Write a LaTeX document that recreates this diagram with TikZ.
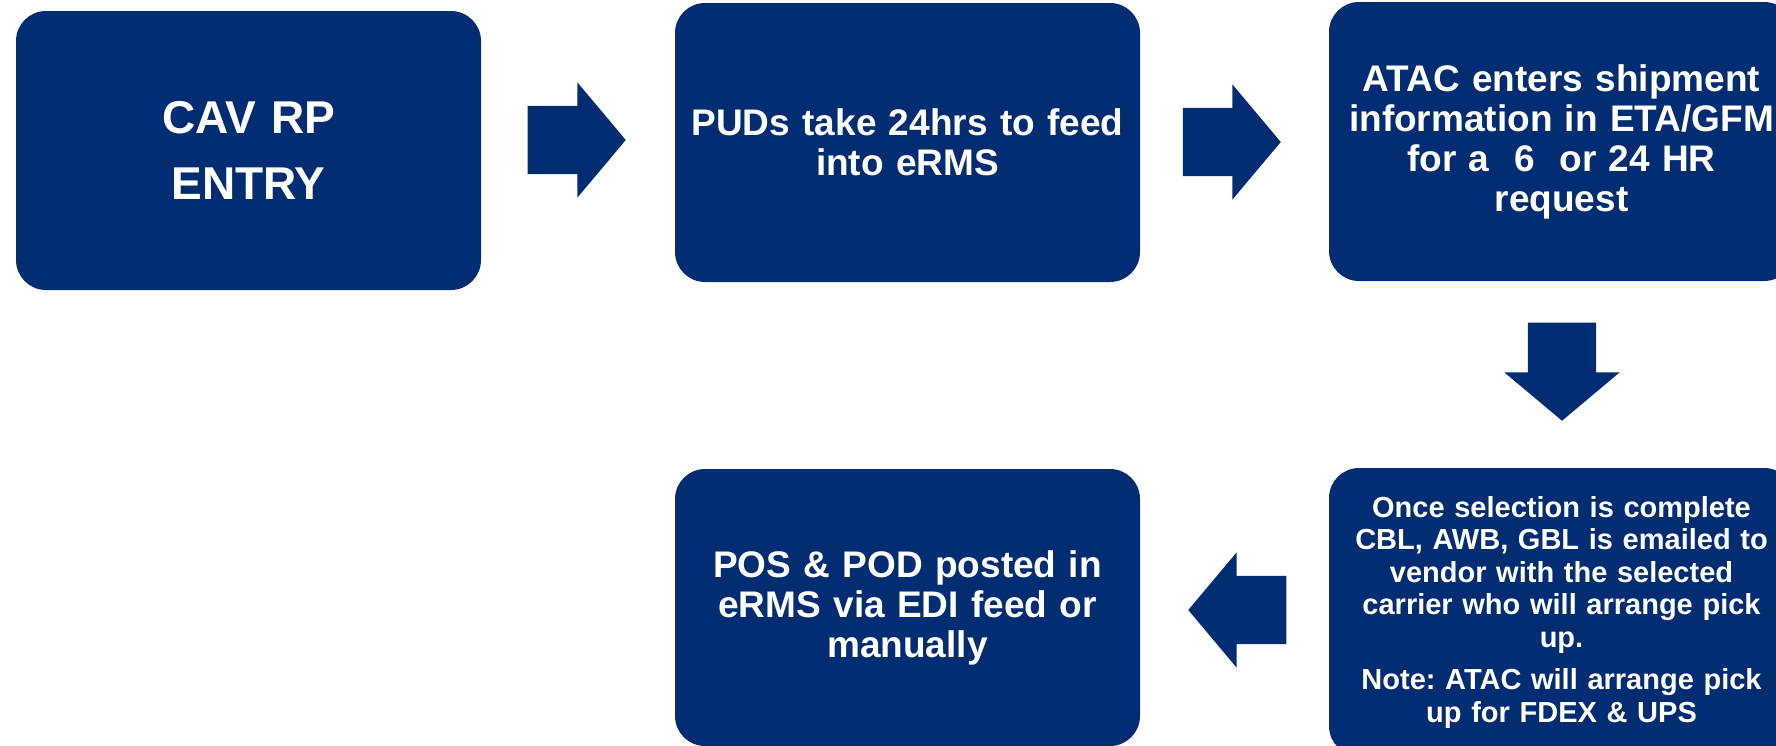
\documentclass[tikz,border=0pt]{standalone}
\usepackage{fontspec}
\setmainfont{Liberation Sans}
\usepackage{tikz}
\usetikzlibrary{shapes.arrows}
\definecolor{navy}{RGB}{3,45,114}
\frenchspacing

\begin{document}
\begin{tikzpicture}[
  x=1pt, y=-1pt,
  flowbox/.style={rectangle, rounded corners=30pt, fill=navy, text=white,
                  minimum width=465pt, minimum height=279pt, text width=440pt,
                  align=center, inner sep=0pt},
  bigtxt/.style={font=\bfseries\fontsize{37}{40}\selectfont},
  blockarr/.style={single arrow, fill=navy, draw=none, inner xsep=0pt, inner ysep=34pt,
                   minimum width=0pt, minimum height=98pt, single arrow head extend=23.5pt,
                   single arrow tip angle=100, anchor=tip},
]
\useasboundingbox (0,0) rectangle (1776,745);
% top row
\node[flowbox, font=\bfseries\fontsize{46}{66}\selectfont] (cav) at (248.5,150.5) {CAV RP\\ENTRY};
\node[flowbox, bigtxt] (pud) at (907.5,142.5) {PUDs take 24hrs to feed\\into eRMS};
\node[flowbox, bigtxt] (atac) at (1561.5,141.5) {ATAC enters shipment\\information in ETA/GFM\\for a~~6~~or 24 HR\\request};
% bottom row
\node[flowbox, minimum height=288pt, font=\bfseries\fontsize{29}{32.5}\selectfont] (sel) at (1561.5,612)
  {Once selection is complete\\CBL, AWB, GBL is emailed to\\vendor with the selected\\carrier who will arrange pick\\up.\\[10pt]Note: ATAC will arrange pick\\up for FDEX \& UPS};
\node[flowbox, minimum height=277pt, bigtxt] (pos) at (907.5,607.5) {POS \& POD posted in\\eRMS via EDI feed or\\manually};
% block arrows
\node[blockarr] (a1) at (626,140) {};
\node[blockarr] (a2) at (1281,142) {};
\node[blockarr, shape border rotate=270, inner xsep=34pt, inner ysep=0pt] (a3) at (1562,421) {};
\node[blockarr, shape border rotate=180] (a4) at (1188,610) {};
\end{tikzpicture}
\end{document}
